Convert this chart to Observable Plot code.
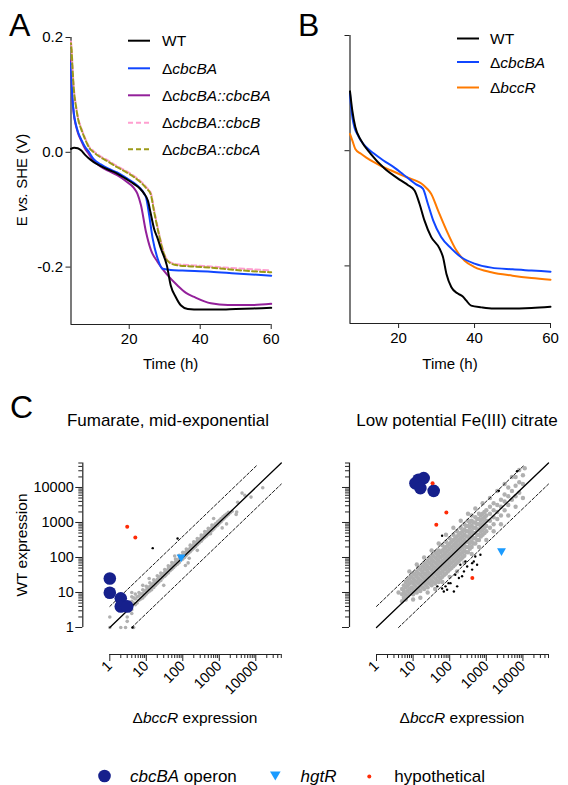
<!DOCTYPE html>
<html><head><meta charset="utf-8">
<script src="https://cdn.jsdelivr.net/npm/d3@7"></script>
<script src="https://cdn.jsdelivr.net/npm/@observablehq/plot@0.6"></script>
<style>
html,body{margin:0;padding:0;background:#fff;}
#fig{position:relative;width:568px;height:785px;overflow:hidden;font-family:"Liberation Sans",Arial,Helvetica,sans-serif;background:#fff;}
#fig .p{position:absolute;}
#fig svg{overflow:visible;}
#overlay{position:absolute;left:0;top:0;pointer-events:none;font-family:"Liberation Sans",Arial,Helvetica,sans-serif;}
</style></head><body><div id="fig"></div>
<script>
// ---------- Panel A: potential (V vs SHE) over time (h) ----------
const timeDomainA = [3.6, 60];
const timeDomainB = [7.2, 60];
const potentialDomain = [-0.3, 0.2];
const timeTicks = [20, 40, 60];
const potentialTicks = [-0.2, 0, 0.2];

const wtA = [[3.6,0.006],[4.5,0.008],[5.5,0.007],[6.5,0.003],[7.5,-0.004],[8.5,-0.010],[10,-0.017],[12,-0.024],[14,-0.030],[16.6,-0.037],[19,-0.046],[21.3,-0.055],[23,-0.063],[24.2,-0.072],[25.3,-0.085],[26,-0.105],[27,-0.133],[28,-0.150],[29,-0.169],[30.6,-0.197],[31.7,-0.232],[33.1,-0.252],[34.6,-0.267],[36.5,-0.273],[40,-0.274],[45,-0.274],[50,-0.273],[55,-0.272],[60,-0.271]];
const cbcBAdelA = [[3.6,0.156],[3.8,0.12],[4.0,0.095],[4.4,0.068],[5,0.048],[5.6,0.035],[6.5,0.022],[7.5,0.01],[8.5,0.002],[10,-0.012],[12,-0.021],[14,-0.028],[16.6,-0.035],[19,-0.044],[21.3,-0.053],[23,-0.062],[24.2,-0.072],[24.8,-0.080],[25.6,-0.109],[26.6,-0.150],[28,-0.185],[29.4,-0.203],[31.7,-0.205],[35,-0.206],[43,-0.208],[50,-0.211],[60,-0.215]];
const compBA_A = [[3.6,0.16],[3.8,0.12],[4.0,0.094],[4.4,0.066],[5,0.046],[5.6,0.033],[6.5,0.02],[7.5,0.007],[8.5,-0.002],[10,-0.015],[12,-0.025],[14,-0.032],[16.6,-0.040],[19,-0.050],[21.3,-0.062],[22.3,-0.072],[23.3,-0.092],[24.7,-0.138],[26.1,-0.170],[28,-0.191],[30.8,-0.214],[33.6,-0.232],[36,-0.245],[38.3,-0.252],[43,-0.263],[47.8,-0.266],[55,-0.266],[60,-0.264]];
const compB_A = [[3.6,0.193],[3.8,0.178],[4.0,0.152],[4.4,0.112],[5,0.082],[5.6,0.06],[6.5,0.042],[7.5,0.026],[8.7,0.01],[10,0.002],[11.9,-0.007],[14,-0.014],[16.6,-0.024],[19,-0.032],[21.3,-0.041],[23.5,-0.052],[25,-0.062],[26.1,-0.071],[27.1,-0.103],[28.5,-0.144],[30,-0.179],[31.4,-0.191],[33.6,-0.195],[38,-0.197],[43,-0.199],[50,-0.202],[60,-0.206]];
const compA_A = [[3.6,0.19],[3.8,0.175],[4.0,0.15],[4.4,0.11],[5,0.08],[5.6,0.058],[6.5,0.04],[7.5,0.024],[8.7,0.008],[10,0.0],[11.9,-0.0085],[14,-0.016],[16.6,-0.026],[19,-0.034],[21.3,-0.043],[23.5,-0.054],[25,-0.064],[26,-0.072],[27,-0.103],[28.4,-0.144],[29.9,-0.179],[31.3,-0.192],[33.6,-0.197],[38,-0.199],[43,-0.201],[50,-0.205],[60,-0.209]];

// ---------- Panel B ----------
const wtB = [[7.2,0.103],[7.8,0.07],[8.6,0.041],[10.1,0.018],[12.6,-0.005],[16.3,-0.031],[20.7,-0.052],[22.5,-0.06],[24.2,-0.069],[25.5,-0.092],[26.8,-0.121],[28.6,-0.150],[30.8,-0.170],[31.7,-0.185],[32.6,-0.214],[33.9,-0.237],[35.6,-0.248],[36.9,-0.253],[37.8,-0.260],[39.1,-0.269],[41.8,-0.272],[45,-0.274],[48.8,-0.274],[55,-0.273],[60,-0.271]];
const cbcBAdelB = [[7.2,0.099],[7.5,0.075],[7.9,0.055],[8.4,0.04],[9.2,0.028],[10,0.018],[11.5,0.006],[13.5,-0.005],[16,-0.017],[18.8,-0.029],[21,-0.040],[23.3,-0.052],[24.5,-0.058],[26.4,-0.066],[27.7,-0.092],[29.1,-0.121],[31.2,-0.150],[33.9,-0.170],[36.5,-0.185],[40,-0.196],[44.4,-0.203],[50,-0.206],[55,-0.208],[60,-0.210]];
const bccRdelB = [[7.2,0.029],[7.8,0.018],[8.6,0.003],[10,-0.005],[11.5,-0.012],[13.5,-0.020],[15.5,-0.027],[17.9,-0.034],[20,-0.040],[22.5,-0.047],[24.5,-0.052],[26,-0.057],[27.5,-0.066],[28.6,-0.075],[30.4,-0.104],[33,-0.144],[35.2,-0.173],[37.4,-0.191],[40,-0.202],[44.4,-0.211],[50,-0.217],[55,-0.221],[60,-0.224]];

// ---------- Panel C: expression scatter (x: ΔbccR, y: WT) ----------
const exprDomain = [1, 50000];
const majorTicks = [1, 10, 100, 1000, 10000];
const minorMultipliers = [2, 3, 4, 5, 6, 7, 8, 9];
const foldLimit = 4;
const identityLine = [1, 50000];
const upperLine = [1, 11000];
const lowerLine = [4, 50000];

const fumGray = [[1,1],[1,2],[2,1],[2.7,1],[4.5,1],[3,1.5],[3,2],[3.5,3],[3.5,4.5],[4,2.5],[4,3.2],[4,4.2],[4,5.6],[4,7.5],[4,10],
[4.5,5],[4.5,7],[5,4.5],[5,6.5],[5,9],[5.6,5],[5.6,7.5],[6.3,6],[6.3,8],[6.3,10],[7.1,6.5],[7.1,9],[8,7],[8,9.5],[8,12],[9,8],[9,11],[10,9],[10,12],[10,15],[11,10],[11,13],[12.5,11],[12.5,15],[12.5,19],[14,12],[14,17],[16,14],[16,19],[16,23],[18,16],[18,21],[20,18],[20,24],[20,30],[22,20],[22,27],[25,22],[25,30],[25,36],[28,26],[28,34],[32,29],[32,38],[32,45],[35,32],[35,42],[40,36],[40,48],[40,58],[45,42],[45,54],[50,46],[50,60],[50,72],[56,52],[56,68],[63,58],[63,75],[63,90],[71,64],[71,85],[80,72],[80,95],[80,115],[90,85],[90,105],[100,90],[100,120],[100,140],[112,100],[112,135],[125,115],[125,150],[125,175],[140,130],[140,165],[160,145],[160,190],[160,225],[180,165],[180,210],[200,185],[200,240],[200,280],[224,205],[224,265],[250,230],[250,300],[250,350],[280,260],[280,330],[320,290],[320,380],[320,440],[350,330],[350,420],[400,370],[400,470],[400,550],[450,410],[450,530],[500,460],[500,590],[500,680],[560,520],[560,650],[630,580],[630,740],[630,850],[710,650],[710,830],[800,750],[800,930],[900,830],[900,1050],[1000,950],[1000,1150],[1120,1050],[1120,1300],[1260,1200],[1260,1450],[1410,1350],[1410,1600],[1580,1500],[1580,1750],[1780,1700],[1780,1950],[2000,1900],[2240,2100],
[4200,6900],[15500,9800],[7400,5300],[3200,3800],[1580,910],[2900,1700],[575,475],[118,59],[140,70],[30,16],[60,110],[150,95],[250,160],[700,1300],[1200,700],[3000,2000],[5000,6000],[12,25],[8,16]];
const fumBlack = [[15,185],[72,350],[4.2,1]];
const fumRed = [[3,760],[5,370]];
const fumNavy = [[1,25],[1,9.8],[2,6.8],[2,4],[3,4]];
const fumHgtR = [[90,102]];

const feGray = [[5,8.9],[5,12.6],[5.6,7.1],[5.6,11],[5.6,16],[6.3,8.9],[6.3,14],[6.3,20],[7.1,7.9],[7.1,11],[7.1,16],[7.1,22],[7.9,8.9],[7.9,12.6],[7.9,18],[7.9,25],[8.9,10],[8.9,14],[8.9,20],[8.9,28],
[10,8.9],[10,12.6],[10,18],[10,25],[10,35],[11.2,11],[11.2,16],[11.2,22],[11.2,32],[12.6,10],[12.6,14],[12.6,20],[12.6,28],[12.6,40],[14.1,12.6],[14.1,18],[14.1,25],[14.1,35],[14.1,50],[15.8,11],[15.8,16],[15.8,22],[15.8,32],[15.8,45],[17.8,14],[17.8,20],[17.8,28],[17.8,40],[17.8,56],
[20,12.6],[20,18],[20,25],[20,35],[20,50],[20,71],[22.4,16],[22.4,22],[22.4,32],[22.4,45],[22.4,63],[25,14],[25,20],[25,28],[25,40],[25,56],[25,79],[28,18],[28,25],[28,35],[28,50],[28,71],[28,100],[32,16],[32,22],[32,32],[32,45],[32,63],[32,89],[35,20],[35,28],[35,40],[35,56],[35,79],[35,112],
[40,18],[40,25],[40,35],[40,50],[40,71],[40,100],[40,141],[45,22],[45,32],[45,45],[45,63],[45,89],[45,126],[50,20],[50,28],[50,40],[50,56],[50,79],[50,112],[50,158],[56,25],[56,35],[56,50],[56,71],[56,100],[56,141],[63,28],[63,40],[63,56],[63,79],[63,112],[63,158],[63,224],[71,32],[71,45],[71,63],[71,89],[71,126],[71,178],[79,35],[79,50],[79,71],[79,100],[79,141],[79,200],[79,282],[89,40],[89,56],[89,79],[89,112],[89,158],[89,224],
[100,45],[100,63],[100,89],[100,126],[100,178],[100,251],[100,355],[112,50],[112,71],[112,100],[112,141],[112,200],[112,282],[126,56],[126,79],[126,112],[126,158],[126,224],[126,316],[126,447],[141,63],[141,89],[141,126],[141,178],[141,251],[141,355],[158,71],[158,100],[158,141],[158,200],[158,282],[158,398],[158,562],[178,79],[178,112],[178,158],[178,224],[178,316],[178,447],
[200,89],[200,126],[200,178],[200,251],[200,355],[200,501],[200,708],[224,100],[224,141],[224,200],[224,282],[224,398],[224,562],[251,112],[251,158],[251,224],[251,316],[251,447],[251,631],[251,891],[282,141],[282,200],[282,282],[282,398],[282,562],[282,794],[316,141],[316,200],[316,282],[316,398],[316,562],[316,794],[316,1122],[355,178],[355,251],[355,355],[355,501],[355,708],[355,1000],
[398,200],[398,282],[398,398],[398,562],[398,794],[398,1122],[398,1585],[447,251],[447,355],[447,501],[447,708],[447,1000],[501,251],[501,355],[501,501],[501,708],[501,1000],[501,1413],[562,316],[562,447],[562,631],[562,891],[562,1259],[631,316],[631,447],[631,631],[631,891],[631,1259],[631,1778],[708,398],[708,562],[708,794],[708,1122],[708,1585],[794,447],[794,631],[794,891],[794,1259],[794,1778],[891,501],[891,708],[891,1000],[891,1413],[891,1995],
[1000,562],[1000,794],[1000,1122],[1000,1585],[1000,2239],[1259,708],[1259,1122],[1259,1778],[1259,2818],[1585,891],[1585,1413],[1585,2239],[1585,3548],[1995,1259],[1995,1995],[1995,3162],[2512,1585],[2512,2818],[2512,4467],[3162,2239],[3162,3981],[3162,6310],[3981,3162],[3981,5623],[3981,10000],[5012,4467],[5012,7943],[6310,5623],[6310,11220],[6310,19953],[7943,7079],[7943,14125],[10000,12589],[10000,22387],
[7.9,40],[12.6,63],[20,100],[32,158],[50,251],[79,447],[126,708],[200,1122],[316,1778],[501,2512],[794,3548],[1259,5012],[1995,7943],[3162,12589],[5012,19953],[7943,31623],[11220,35481],
[15.8,7.1],[25,10],[40,12.6],[63,20],[100,28],[158,40],[251,71],[398,126],[631,200],[1000,316],[1585,562],[2512,891],[3981,1585],[6310,2818],[10000,5012],[5,5.6],[4,10],[6.3,6.3],[10,6.3]];
const feBlack = [[62,13],[77,15],[105,18.5],[130,10.7],[85,12],[178,26],[218,29],[245,40],[300,55],[410,69],[455,77],[560,62],[410,45],[160,15],[69,10.7],[46,15],[500,107],[690,120],[195,62],[270,77],[142,32],[93,18.5],[62,417],[2200,8000],[6900,29000]];
const feRed = [[34,13200],[81,1940],[43,860],[415,26]];
const feNavy = [[14,16600],[19.5,18500],[11.6,13200],[15.8,9600],[36.5,8000]];
const feHgtR = [[2600,155]];

// ---------- colours ----------
const colWT = "#000000", colDel = "#1046ff", colCompBA = "#93209a", colCompB = "#ff9fd0", colCompA = "#9c9a18", colBccR = "#ff7a00";
const colNavy = "#16208c", colHgtR = "#1a9bff", colRed = "#ff2b06", colGray = "#b0b0b0", axisColor = "#222";

const fontFam = '"Liberation Sans", Arial, Helvetica, sans-serif';
const fig = document.getElementById("fig");
function place(chart, left, top, w) {
  const d = document.createElement("div");
  d.className = "p";
  d.style.left = left + "px"; d.style.top = top + "px"; d.style.width = w + "px";
  d.appendChild(chart);
  fig.appendChild(d);
}
const X = d => d[0], Y = d => d[1];
const lineOpts = (stroke, extra = {}) => ({x: X, y: Y, stroke, strokeWidth: 2, curve: "monotone-x", ...extra});

function timePanel({width, marginLeft, marginRight, marginTop, marginBottom, xDomain, yLabels, series}) {
  return Plot.plot({
    width, height: 380, marginLeft, marginRight, marginTop, marginBottom,
    x: {domain: xDomain}, y: {domain: potentialDomain},
    style: {fontFamily: fontFam, fontSize: "15px", color: "#000", background: "transparent", overflow: "visible"},
    marks: [
      Plot.ruleX([xDomain[0]], {stroke: axisColor, strokeWidth: 1.2}),
      Plot.ruleY([potentialDomain[0]], {stroke: axisColor, strokeWidth: 1.2}),
      Plot.axisX({ticks: timeTicks, tickSize: 5, tickPadding: 4, label: null, stroke: axisColor}),
      Plot.axisY({ticks: potentialTicks, tickSize: 5, tickPadding: 3, label: null, stroke: axisColor,
        tickFormat: yLabels ? (d => d.toFixed(1)) : (() => "")}),
      ...series
    ]
  });
}

const chartA = timePanel({
  width: 290, marginLeft: 70.5, marginRight: 19.3, marginTop: 37, marginBottom: 56, xDomain: timeDomainA, yLabels: true,
  series: [
    Plot.line(compBA_A, lineOpts(colCompBA)),
    Plot.line(cbcBAdelA, lineOpts(colDel)),
    Plot.line(compB_A, lineOpts(colCompB, {strokeDasharray: "5,3"})),
    Plot.line(compA_A, lineOpts(colCompA, {strokeDasharray: "5,3", strokeDashoffset: 4})),
    Plot.line(wtA, lineOpts(colWT))
  ]
});
place(chartA, 0, 0, 290);

const chartB = timePanel({
  width: 278, marginLeft: 59.5, marginRight: 18, marginTop: 35, marginBottom: 57, xDomain: timeDomainB, yLabels: false,
  series: [
    Plot.line(bccRdelB, lineOpts(colBccR)),
    Plot.line(cbcBAdelB, lineOpts(colDel)),
    Plot.line(wtB, lineOpts(colWT))
  ]
});
place(chartB, 290, 0, 278);

const minorTicks = majorTicks.flatMap(m => minorMultipliers.map(k => k * m)).filter(v => v <= exprDomain[1]);

function scatterPanel({width, marginLeft, marginRight, yLabels, grayR, gray, black, red, navy, hgtR}) {
  const off = 27;
  return Plot.plot({
    width, height: 300, marginLeft, marginRight, marginTop: 32.5, marginBottom: 103,
    x: {type: "log", domain: exprDomain}, y: {type: "log", domain: exprDomain},
    style: {fontFamily: fontFam, fontSize: "14.5px", color: "#000", background: "transparent", overflow: "visible"},
    marks: [
      Plot.ruleX([exprDomain[0]], {dx: -off, stroke: axisColor, strokeWidth: 1.2}),
      Plot.ruleY([exprDomain[0]], {dy: off, stroke: axisColor, strokeWidth: 1.2}),
      Plot.axisY({ticks: minorTicks, tickSize: 4, dx: -off, tickFormat: () => "", label: null, stroke: axisColor}),
      Plot.axisY({ticks: majorTicks, tickSize: 7, tickPadding: 2, dx: -off, label: null, stroke: axisColor,
        tickFormat: yLabels ? (d => String(d)) : (() => "")}),
      Plot.axisX({ticks: minorTicks, tickSize: 4, dy: off, tickFormat: () => "", label: null, stroke: axisColor}),
      Plot.axisX({ticks: majorTicks, tickSize: 7, tickPadding: 2, dy: off, tickRotate: -45, label: null, stroke: axisColor,
        tickFormat: d => String(d)}),
      Plot.dot(gray, {x: X, y: Y, r: grayR, fill: colGray, stroke: null}),
      Plot.line(identityLine, {x: d => d, y: d => d, stroke: "#000", strokeWidth: 1.3}),
      Plot.line(upperLine, {x: d => d, y: d => d * foldLimit, stroke: "#000", strokeWidth: 0.9, strokeDasharray: "3,2"}),
      Plot.line(lowerLine, {x: d => d, y: d => d / foldLimit, stroke: "#000", strokeWidth: 0.9, strokeDasharray: "3,2"}),
      Plot.dot(black, {x: X, y: Y, r: 1.2, fill: "#000", stroke: null}),
      Plot.dot(navy, {x: X, y: Y, r: 6.3, fill: colNavy, stroke: null}),
      Plot.dot(red, {x: X, y: Y, r: 2, fill: colRed, stroke: null}),
      Plot.dot(hgtR, {x: X, y: Y, r: 3.3, symbol: "triangle", rotate: 180, fill: colHgtR, stroke: null})
    ]
  });
}

place(scatterPanel({width: 290, marginLeft: 109.3, marginRight: 9.2, yLabels: true, grayR: 1.8,
  gray: fumGray, black: fumBlack, red: fumRed, navy: fumNavy, hgtR: fumHgtR}), 0, 430, 290);
place(scatterPanel({width: 278, marginLeft: 86, marginRight: 20, yLabels: false, grayR: 2.2,
  gray: feGray, black: feBlack, red: feRed, navy: feNavy, hgtR: feHgtR}), 290, 430, 278);

// ---------- text / legends overlay ----------
const legendA = [
  {y: 40.7, color: colWT, dash: null, pre: "", it: "", plain: "WT"},
  {y: 68.3, color: colDel, dash: null, pre: "Δ", it: "cbcBA", plain: ""},
  {y: 95.3, color: colCompBA, dash: null, pre: "Δ", it: "cbcBA::cbcBA", plain: ""},
  {y: 122.7, color: colCompB, dash: "5,3", pre: "Δ", it: "cbcBA::cbcB", plain: ""},
  {y: 149.3, color: colCompA, dash: "5,3", pre: "Δ", it: "cbcBA::cbcA", plain: ""}
];
const legendB = [
  {y: 38.5, color: colWT, dash: null, pre: "", it: "", plain: "WT"},
  {y: 62, color: colDel, dash: null, pre: "Δ", it: "cbcBA", plain: ""},
  {y: 87.5, color: colBccR, dash: null, pre: "Δ", it: "bccR", plain: ""}
];
function legendRows(rows, x1, x2, tx) {
  return rows.map(r => `<line x1="${x1}" x2="${x2}" y1="${r.y}" y2="${r.y}" stroke="${r.color}" stroke-width="2"${r.dash ? ` stroke-dasharray="${r.dash}"` : ""}/>` +
    `<text x="${tx}" y="${r.y + 5.5}" font-size="15.5">${r.pre}<tspan font-style="italic">${r.it}</tspan>${r.plain}</text>`).join("");
}
const overlay = `<svg id="overlay" width="568" height="785" xmlns="http://www.w3.org/2000/svg" fill="#000">
<text x="9" y="36" font-size="32">A</text>
<text x="298" y="36" font-size="32">B</text>
<text x="10" y="418" font-size="32">C</text>
<text transform="translate(27,180) rotate(-90)" text-anchor="middle" font-size="15">E <tspan font-style="italic">vs.</tspan> SHE (V)</text>
<text x="170.6" y="369" text-anchor="middle" font-size="15">Time (h)</text>
<text x="450" y="369" text-anchor="middle" font-size="15">Time (h)</text>
${legendRows(legendA, 128, 150, 162)}
${legendRows(legendB, 457, 479, 490)}
<text x="168" y="426" text-anchor="middle" font-size="17">Fumarate, mid-exponential</text>
<text x="457" y="426" text-anchor="middle" font-size="17">Low potential Fe(III) citrate</text>
<text transform="translate(27,545) rotate(-90)" text-anchor="middle" font-size="15.5">WT expression</text>
<text x="195" y="723" text-anchor="middle" font-size="15.5">Δ<tspan font-style="italic">bccR</tspan> expression</text>
<text x="462" y="723" text-anchor="middle" font-size="15.5">Δ<tspan font-style="italic">bccR</tspan> expression</text>
<circle cx="104.5" cy="776" r="6.3" fill="${colNavy}"/>
<text x="130" y="782" font-size="17"><tspan font-style="italic">cbcBA</tspan> operon</text>
<path d="M270,771.5 L280.6,771.5 L275.3,780.5 Z" fill="${colHgtR}"/>
<text x="300.5" y="782" font-size="17" font-style="italic">hgtR</text>
<circle cx="369.3" cy="776.5" r="2" fill="${colRed}"/>
<text x="394.3" y="782" font-size="17">hypothetical</text>
</svg>`;
fig.insertAdjacentHTML("beforeend", overlay);
</script></body></html>
